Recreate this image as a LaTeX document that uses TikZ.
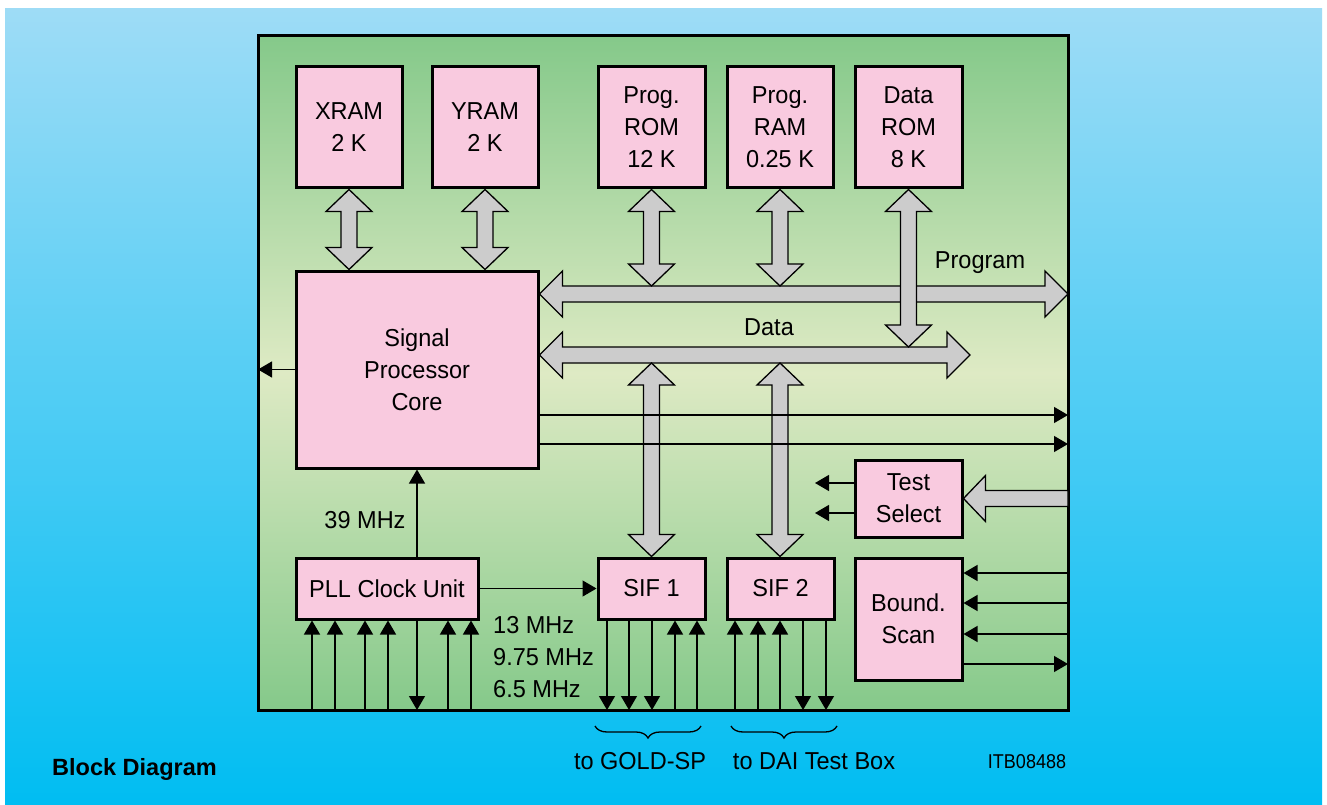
\documentclass[tikz,border=0pt]{standalone}
\usepackage{fontspec}
\setmainfont{Liberation Sans}
\newfontfamily\lblfont[FakeStretch=0.96]{Liberation Sans}
\newfontfamily\itbfont[FakeStretch=0.9]{Liberation Sans}
\usetikzlibrary{arrows.meta,calc,decorations.pathreplacing}
\definecolor{bgtop}{RGB}{158,220,246}
\definecolor{bgbot}{RGB}{0,189,242}
\definecolor{grtop}{RGB}{133,201,138}
\definecolor{grmid}{RGB}{222,234,196}
\definecolor{pinkbox}{RGB}{249,202,223}
\definecolor{busgray}{RGB}{204,204,204}
\tikzset{
 blk/.style={draw=black, line width=3pt, fill=pinkbox, inner sep=0pt, align=center, font=\lblfont\fontsize{24.5}{32}\selectfont},
 bus/.style={draw=black, line width=1.3pt, fill=busgray, line join=miter},
 sig/.style={line width=1.3pt, -{Triangle[length=14pt,width=16pt]}},
 lbl/.style={font=\lblfont\fontsize{24.5}{32}\selectfont, inner sep=0pt},
 brc/.style={decorate, decoration={brace, mirror, amplitude=12pt}, line width=1.3pt},
}
% vertical double bus arrow: #1 top tip, #2 bottom tip
\newcommand\busV[2]{\draw[bus] (#1) -- ++(23,22) -- ++(-15,0) -- ($(#2)+(8,-22)$) -- ++(15,0) -- (#2) -- ++(-23,-22) -- ++(15,0) -- ($(#1)+(-8,22)$) -- ++(-15,0) -- cycle;}
% horizontal double bus arrow: #1 left tip, #2 right tip
\newcommand\busH[2]{\draw[bus] (#1) -- ++(23,-23) -- ++(0,15) -- ($(#2)+(-23,-8)$) -- ++(0,-15) -- (#2) -- ++(-23,23) -- ++(0,-15) -- ($(#1)+(23,8)$) -- ++(0,15) -- cycle;}
% single bus arrow pointing left: #1 tip, #2 tail end
\newcommand\busS[2]{\draw[bus] (#1) -- ++(22,-23) -- ++(0,15) -- ($(#2)+(0,-8)$) -- ($(#2)+(0,8)$) -- ($(#1)+(22,8)$) -- ++(0,15) -- cycle;}
\begin{document}
\begin{tikzpicture}[x=1pt,y=-1pt]
\useasboundingbox (0,0) rectangle (1327,805);
\fill[white] (0,0) rectangle (1327,805);
\shade[top color=bgtop,bottom color=bgbot] (5,9) rectangle (1322,805);
\node[draw=black, line width=3pt, top color=grtop, bottom color=grtop, middle color=grmid,
      minimum width=810pt, minimum height=674pt, inner sep=0pt, outer sep=0pt] (frame) at (663,373) {};

% blocks
\node[blk, minimum width=106pt, minimum height=121pt] (xram) at (349,127.5) {XRAM\\2 K};
\node[blk, minimum width=106pt, minimum height=121pt] (yram) at (485,127.5) {YRAM\\2 K};
\node[blk, minimum width=107pt, minimum height=121pt] (prom) at (651.5,127.5) {Prog.\\ROM\\12 K};
\node[blk, minimum width=106pt, minimum height=121pt] (pram) at (780,127.5) {Prog.\\RAM\\0.25 K};
\node[blk, minimum width=107pt, minimum height=121pt] (drom) at (908.5,127.5) {Data\\ROM\\8 K};
\node[blk, minimum width=242pt, minimum height=197pt] (core) at (417,369.5) {Signal\\Processor\\Core};
\node[blk, minimum width=182pt, minimum height=61pt] (pll) at (387,588.5) {PLL Clock Unit};
\node[blk, minimum width=107pt, minimum height=61pt] (sif1) at (651.5,588.5) {SIF 1};
\node[blk, minimum width=107pt, minimum height=61pt] (sif2) at (780.5,588.5) {SIF 2};
\node[blk, minimum width=107pt, minimum height=77pt] (test) at (908.5,498.5) {Test\\Select};
\node[blk, minimum width=107pt, minimum height=122pt] (bscan) at (908.5,619) {Bound.\\Scan};

% helper coordinates
\coordinate (yP) at (0,294);
\coordinate (yPt) at (0,286);
\coordinate (yD) at (0,355);
\coordinate (yDt) at (0,347);
\coordinate (yDb) at (0,363);
\coordinate (pl) at (core.east |- yP);
\coordinate (pr) at (frame.east |- yP);
\coordinate (dl) at (core.east |- yD);
\coordinate (dr) at (970,355);
\coordinate (xb) at (xram.south |- core.north);
\coordinate (yb) at (yram.south |- core.north);
\coordinate (prb) at (prom.south |- yPt);
\coordinate (pab) at (pram.south |- yPt);
\coordinate (drb) at (drom.south |- yDt);
\coordinate (s1t) at (sif1.north |- yDb);
\coordinate (s2t) at (pram.south |- yDb);
\coordinate (s2b) at (pram.south |- sif2.north);
\coordinate (te) at (frame.east |- test.east);

% buses
\busV{xram.south}{xb}
\busV{yram.south}{yb}
\busH{pl}{pr}
\busH{dl}{dr}
\busV{prom.south}{prb}
\busV{pram.south}{pab}
\busV{drom.south}{drb}
\busV{s1t}{sif1.north}
\busV{s2t}{s2b}
\busS{test.east}{te}

% signal lines
\draw[sig] (core.west) -- (frame.west |- core.west);
\coordinate (yo1) at (0,415);
\coordinate (yo2) at (0,444);
\draw[sig] (core.east |- yo1) -- (frame.east |- yo1);
\draw[sig] (core.east |- yo2) -- (frame.east |- yo2);
\draw[sig] (pll.north -| core.south) -- (core.south);
\draw[sig] (pll.east) -- (sif1.west);
\foreach \x in {312,335,365,388,448,471} \draw[sig] (\x,0 |- frame.south) -- (\x,0 |- pll.south);
\draw[sig] (417,0 |- pll.south) -- (417,0 |- frame.south);
\foreach \x in {607,629,652} \draw[sig] (\x,0 |- sif1.south) -- (\x,0 |- frame.south);
\foreach \x in {675,697} \draw[sig] (\x,0 |- frame.south) -- (\x,0 |- sif1.south);
\foreach \x in {735,758,780} \draw[sig] (\x,0 |- frame.south) -- (\x,0 |- sif2.south);
\foreach \x in {803,826} \draw[sig] (\x,0 |- sif2.south) -- (\x,0 |- frame.south);
\coordinate (ts1) at (815,483);
\coordinate (ts2) at (815,513);
\draw[sig] (test.west |- ts1) -- (ts1);
\draw[sig] (test.west |- ts2) -- (ts2);
\foreach \y in {573,603,634} \draw[sig] (frame.east |- 0,\y) -- (bscan.east |- 0,\y);
\draw[sig] (bscan.east |- 0,664) -- (frame.east |- 0,664);

% labels
\node[lbl] (lprog) at (980,263) {Program};
\node[lbl] (ldata) at (769,327) {Data};
\node[lbl] (l39) at (365,520) {39 MHz};
\node[lbl, align=left, anchor=west] (lfreq) at (493,657) {13 MHz\\9.75 MHz\\6.5 MHz};

% braces
\coordinate (g1) at (595,726);
\coordinate (g2) at (701,726);
\coordinate (g3) at (731,726);
\coordinate (g4) at (837,726);
\draw[brc] (g1) -- (g2);
\draw[brc] (g3) -- (g4);
\node[lbl] (tgold) at (640,761) {to GOLD-SP};
\node[lbl] (tdai) at (814,761) {to DAI Test Box};
\node[font=\itbfont\fontsize{20}{24}\selectfont, inner sep=0pt] (itb) at (1027,762) {ITB08488};
\node[font=\bfseries\fontsize{23.5}{28}\selectfont, anchor=west, inner sep=0pt] (title) at (52,769) {Block Diagram};
\end{tikzpicture}
\end{document}
